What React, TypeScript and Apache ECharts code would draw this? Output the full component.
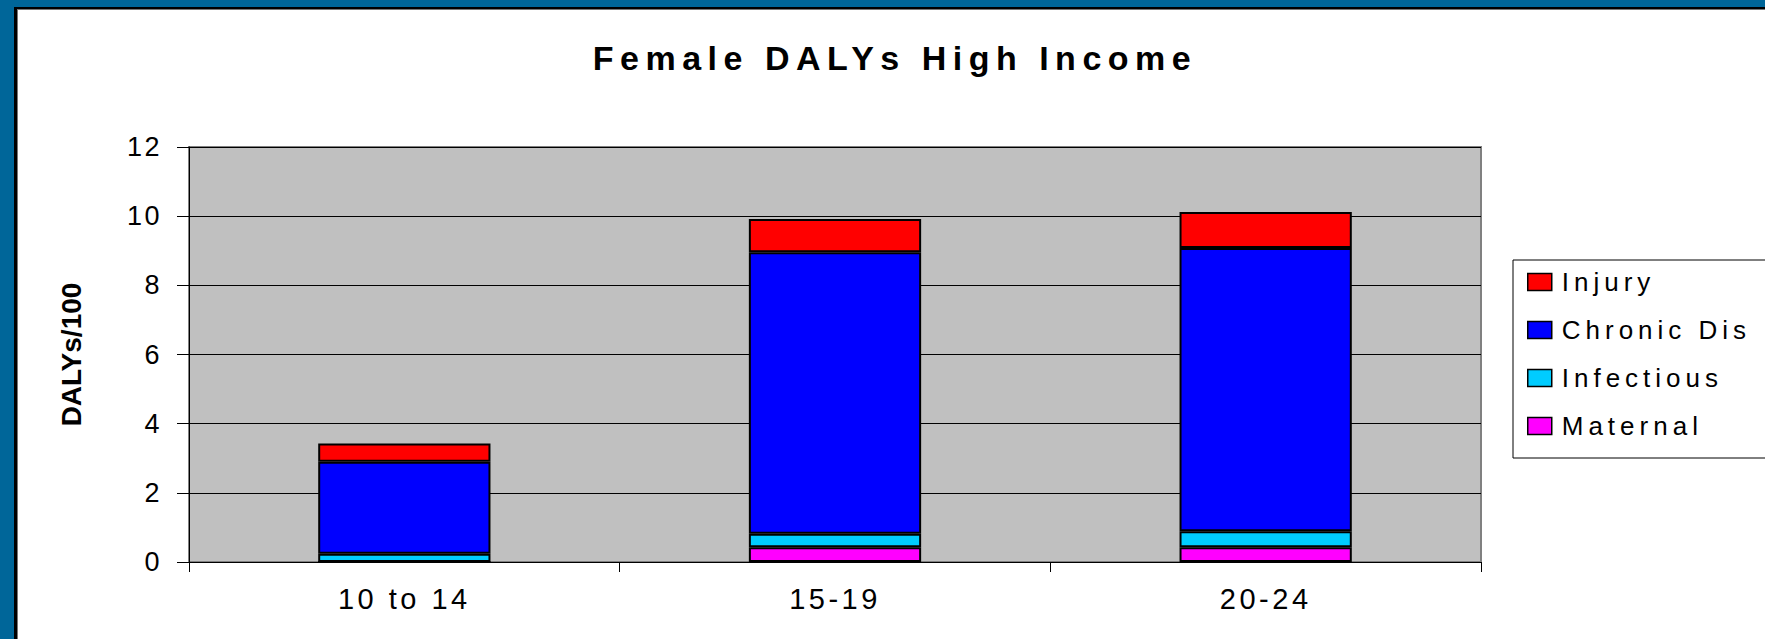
import React, { useEffect, useRef } from "react";
import * as echarts from "echarts";

const categories = ["10 to 14", "15-19", "20-24"];
const maternal = [0, 0.43, 0.43];
const infectious = [0.24, 0.39, 0.46];
const chronicDis = [2.66, 8.14, 8.19];
const injury = [0.53, 0.96, 1.04];
const legendOrder = ["Injury", "Chronic Dis", "Infectious", "Maternal"];
const yTicks = { min: 0, max: 12, interval: 2 };

const css = `
#chartbox svg text[style*="26px"]{letter-spacing:5px;}
#chartbox svg text[style*="27px"]{letter-spacing:2.5px;}
#chartbox svg text[style*="29px"]{letter-spacing:3.5px;}
#chartbox svg text[style*="34px"]{letter-spacing:6.5px;}
`;

export default function App() {
  const ref = useRef<HTMLDivElement>(null);
  useEffect(() => {
    if (!ref.current) return;
    const chart = echarts.init(ref.current, undefined, { renderer: "svg" });
    const font = "Liberation Sans, Arial, sans-serif";
    const mk = (name: string, data: number[], color: string) => ({
      name,
      type: "bar",
      stack: "total",
      data,
      barWidth: "40%",
      itemStyle: { color, borderColor: "#000", borderWidth: 2 },
    });
    chart.setOption({
      animation: false,
      backgroundColor: "#ffffff",
      textStyle: { fontFamily: font, color: "#000" },
      title: {
        text: "Female DALYs High Income",
        left: 895,
        top: 41,
        padding: 0,
        textAlign: "center",
        textStyle: { fontFamily: font, fontSize: 34, fontWeight: "bold", color: "#000" },
      },
      graphic: [
        { type: "rect", shape: { x: 0, y: 0, width: 1765, height: 7 }, style: { fill: "#006699" }, silent: true },
        { type: "rect", shape: { x: 0, y: 7, width: 1765, height: 2 }, style: { fill: "#000" }, silent: true },
        { type: "rect", shape: { x: 0, y: 9, width: 1765, height: 1 }, style: { fill: "#777" }, silent: true },
        { type: "rect", shape: { x: 0, y: 0, width: 14, height: 639 }, style: { fill: "#006699" }, silent: true },
        { type: "rect", shape: { x: 14, y: 7, width: 3, height: 632 }, style: { fill: "#000" }, silent: true },
        { type: "rect", shape: { x: 17, y: 9, width: 1, height: 630 }, style: { fill: "#777" }, silent: true },
      ],
      legend: {
        data: legendOrder,
        orient: "vertical",
        left: 1513,
        top: 260,
        itemWidth: 24,
        itemHeight: 17,
        itemGap: 22,
        padding: [9, 120, 19, 14],
        backgroundColor: "#fff",
        borderColor: "#000",
        borderWidth: 1,
        borderRadius: 0,
        icon: "rect",
        itemStyle: { borderColor: "#000", borderWidth: 1.5 },
        textStyle: { fontFamily: font, fontSize: 26, color: "#000", padding: [0, 0, 0, 5] },
      },
      grid: {
        left: 189,
        top: 147,
        right: 284,
        bottom: 77,
        show: true,
        backgroundColor: "#c0c0c0",
        borderColor: "#808080",
        borderWidth: 2,
        containLabel: false,
      },
      xAxis: {
        type: "category",
        data: categories,
        axisLine: { show: true, lineStyle: { color: "#000", width: 1 } },
        axisTick: { show: true, length: 10, lineStyle: { color: "#000" } },
        axisLabel: { fontFamily: font, fontSize: 29, color: "#000", margin: 22 },
        splitLine: { show: false },
      },
      yAxis: {
        type: "value",
        min: yTicks.min,
        max: yTicks.max,
        interval: yTicks.interval,
        name: "DALYs/100",
        nameLocation: "middle",
        nameGap: 104,
        nameRotate: 90,
        nameTextStyle: { fontFamily: font, fontSize: 28, fontWeight: "bold", color: "#000" },
        axisLine: { show: true, lineStyle: { color: "#000", width: 1 } },
        axisTick: { show: true, length: 12, lineStyle: { color: "#000" } },
        axisLabel: { fontFamily: font, fontSize: 27, color: "#000", margin: 27 },
        splitLine: { show: true, lineStyle: { color: "#000", width: 1 } },
      },
      series: [
        mk("Maternal", maternal, "#ff00ff"),
        mk("Infectious", infectious, "#00ccff"),
        mk("Chronic Dis", chronicDis, "#0000ff"),
        mk("Injury", injury, "#ff0000"),
      ],
    });
    return () => chart.dispose();
  }, []);
  return (
    <>
      <style>{css}</style>
      <div
        id="chartbox"
        ref={ref}
        style={{ position: "absolute", left: 0, top: 0, width: 1765, height: 639 }}
      />
    </>
  );
}
